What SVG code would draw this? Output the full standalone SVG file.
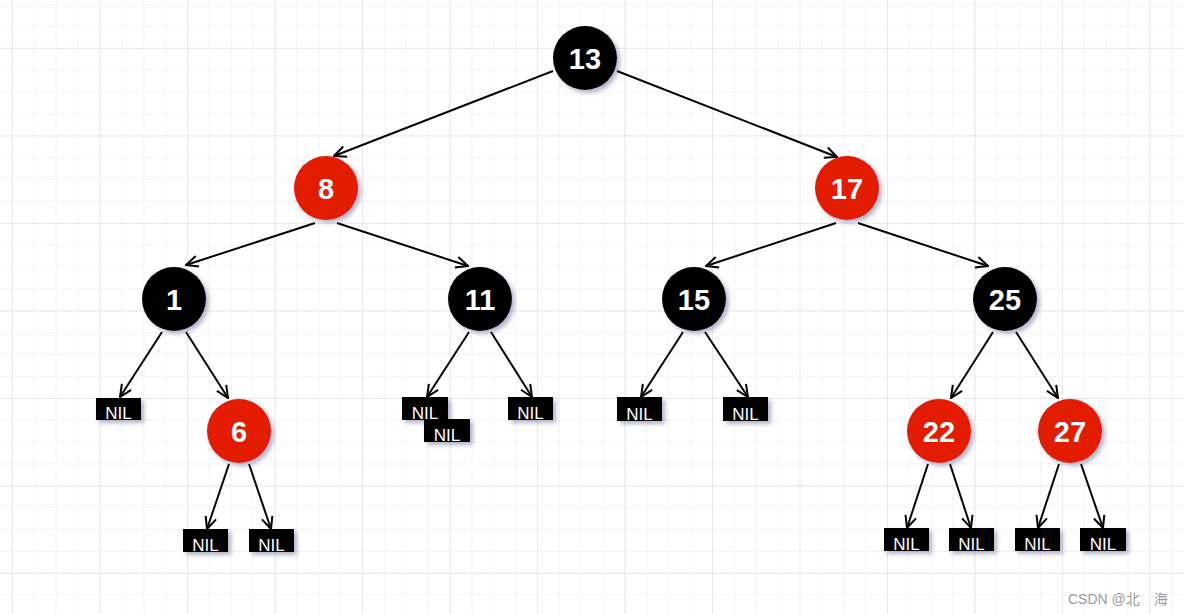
<svg xmlns="http://www.w3.org/2000/svg" width="1184" height="614" viewBox="0 0 1184 614">
<defs>
<pattern id="minor" x="12" y="4" width="21.875" height="21.875" patternUnits="userSpaceOnUse">
<path d="M0,0 V21.875 M0,0 H21.875" fill="none" stroke="#f1f1f3" stroke-width="1.5"/>
</pattern>
<pattern id="major" x="12" y="48" width="87.5" height="87.5" patternUnits="userSpaceOnUse">
<path d="M0,0 V87.5 M0,0 H87.5" fill="none" stroke="#dcdcdf" stroke-width="1"/>
</pattern>
<filter id="sh" x="-30%" y="-30%" width="170%" height="170%">
<feDropShadow dx="3" dy="3" stdDeviation="2" flood-color="#5a5a8c" flood-opacity="0.45"/>
</filter>
<marker id="arr" viewBox="0 0 14 14" refX="13" refY="7" markerWidth="14" markerHeight="14" markerUnits="userSpaceOnUse" orient="auto">
<path d="M1,1.5 L13,7 L1,12.5" fill="none" stroke="#000" stroke-width="2"/>
</marker>
<style>
.blk{fill:#000;filter:url(#sh)}
.red{fill:#e31a00;filter:url(#sh)}
.num{font-family:"Liberation Sans",Arial,sans-serif;font-weight:bold;font-size:29px;fill:#fff;text-anchor:middle}
.nilr{fill:#000;filter:url(#sh)}
.nil{font-family:"Liberation Sans",Arial,sans-serif;font-size:17px;fill:#fff;text-anchor:middle}
.e{stroke:#000;stroke-width:2;fill:none;marker-end:url(#arr)}
</style>
</defs>
<rect width="1184" height="614" fill="#fff"/>
<rect width="1184" height="614" fill="url(#minor)"/>
<rect width="1184" height="614" fill="url(#major)"/>
<g id="connectors">
<line class="e" x1="553" y1="71" x2="334" y2="156"/>
<line class="e" x1="617" y1="71" x2="837" y2="157"/>
<line class="e" x1="315" y1="223" x2="186" y2="265"/>
<line class="e" x1="337" y1="223" x2="468" y2="266"/>
<line class="e" x1="836" y1="223" x2="706" y2="266"/>
<line class="e" x1="858" y1="223" x2="988" y2="266"/>
<line class="e" x1="162" y1="332" x2="120" y2="397"/>
<line class="e" x1="186" y1="332" x2="228" y2="398"/>
<line class="e" x1="229" y1="464" x2="207" y2="529"/>
<line class="e" x1="249" y1="464" x2="271" y2="529"/>
<line class="e" x1="469" y1="332" x2="427" y2="397"/>
<line class="e" x1="491" y1="332" x2="532" y2="397"/>
<line class="e" x1="683" y1="332" x2="641" y2="397"/>
<line class="e" x1="705" y1="332" x2="748" y2="397"/>
<line class="e" x1="993" y1="332" x2="951" y2="398"/>
<line class="e" x1="1016" y1="332" x2="1058" y2="398"/>
<line class="e" x1="928" y1="464" x2="907" y2="528"/>
<line class="e" x1="950" y1="464" x2="971" y2="528"/>
<line class="e" x1="1059" y1="464" x2="1038" y2="528"/>
<line class="e" x1="1081" y1="464" x2="1103" y2="528"/>
</g>
<g id="n13"><circle class="blk" cx="585" cy="58" r="32"/><text class="num" x="585" y="69">13</text></g>
<g id="n8"><circle class="red" cx="326" cy="188" r="32"/><text class="num" x="326" y="199">8</text></g>
<g id="n17"><circle class="red" cx="847" cy="188" r="32"/><text class="num" x="847" y="199">17</text></g>
<g id="n1"><circle class="blk" cx="174" cy="299" r="32"/><text class="num" x="174" y="310">1</text></g>
<g id="n11"><circle class="blk" cx="480" cy="299" r="32"/><text class="num" x="480" y="310">11</text></g>
<g id="n15"><circle class="blk" cx="694" cy="299" r="32"/><text class="num" x="694" y="310">15</text></g>
<g id="n25"><circle class="blk" cx="1005" cy="299" r="32"/><text class="num" x="1005" y="310">25</text></g>
<g id="n6"><circle class="red" cx="239" cy="431" r="32"/><text class="num" x="239" y="442">6</text></g>
<g id="n22"><circle class="red" cx="939" cy="431" r="32"/><text class="num" x="939" y="442">22</text></g>
<g id="n27"><circle class="red" cx="1070" cy="431" r="32"/><text class="num" x="1070" y="442">27</text></g>
<g id="nil1"><rect class="nilr" x="96" y="398" width="45" height="22"/><text class="nil" x="118.5" y="419">NIL</text></g>
<g id="nil2"><rect class="nilr" x="183" y="529" width="45" height="23"/><text class="nil" x="205.5" y="551">NIL</text></g>
<g id="nil3"><rect class="nilr" x="249" y="529" width="45" height="23"/><text class="nil" x="271.5" y="551">NIL</text></g>
<g id="nil4"><rect class="nilr" x="402" y="397" width="46" height="23"/><text class="nil" x="425" y="419">NIL</text></g>
<g id="nil5"><rect class="nilr" x="424" y="419" width="46" height="23"/><text class="nil" x="447" y="441">NIL</text></g>
<g id="nil6"><rect class="nilr" x="508" y="397" width="45" height="23"/><text class="nil" x="530.5" y="419">NIL</text></g>
<g id="nil7"><rect class="nilr" x="617" y="397" width="45" height="24"/><text class="nil" x="639.5" y="419.5">NIL</text></g>
<g id="nil8"><rect class="nilr" x="723" y="397" width="45" height="24"/><text class="nil" x="745.5" y="419.5">NIL</text></g>
<g id="nil9"><rect class="nilr" x="884" y="528" width="45" height="23"/><text class="nil" x="906.5" y="550">NIL</text></g>
<g id="nil10"><rect class="nilr" x="949" y="528" width="45" height="23"/><text class="nil" x="971.5" y="550">NIL</text></g>
<g id="nil11"><rect class="nilr" x="1015" y="528" width="45" height="23"/><text class="nil" x="1037.5" y="550">NIL</text></g>
<g id="nil12"><rect class="nilr" x="1080" y="528" width="46" height="23"/><text class="nil" x="1103" y="550">NIL</text></g>
<text x="1068" y="604" font-family="'Liberation Sans','Noto Sans CJK SC',sans-serif" font-size="14" fill="#9a9a9a">CSDN @北　海</text>
</svg>
